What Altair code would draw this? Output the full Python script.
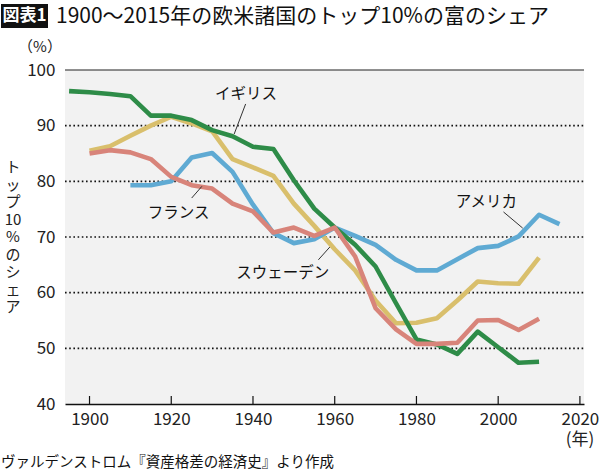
import altair as alt
import pandas as pd

FONT = "Noto Sans CJK JP"

# ---- data ----
uk_years = [1895, 1900, 1905, 1910, 1915, 1920, 1925, 1930, 1935, 1940, 1945, 1950,
            1955, 1960, 1965, 1970, 1975, 1980, 1985, 1990, 1995, 2000, 2005, 2010]
uk_vals = [96.2, 96.0, 95.7, 95.3, 91.8, 91.8, 91.0, 89.2, 88.1, 86.2, 85.8, 80.2,
           75.1, 71.7, 68.6, 64.7, 58.1, 51.6, 50.7, 49.0, 53.0, 50.2, 47.4, 47.6]

se_years = [1900, 1905, 1910, 1915, 1920, 1925, 1930, 1935, 1940, 1945, 1950, 1955,
            1960, 1965, 1970, 1975, 1980, 1985, 1990, 1995, 2000, 2005, 2010]
se_vals = [85.5, 86.3, 88.2, 90.0, 91.6, 90.4, 89.0, 84.0, 82.5, 81.0, 76.0, 72.0,
           67.8, 64.0, 58.6, 54.5, 54.6, 55.4, 58.6, 62.0, 61.7, 61.6, 66.3]

fr_years = se_years
fr_vals = [85.0, 85.6, 85.2, 84.0, 80.8, 79.3, 78.7, 76.0, 74.6, 70.8, 71.7, 70.2,
           71.7, 66.5, 57.2, 53.4, 50.8, 50.8, 51.0, 55.0, 55.1, 53.3, 55.3]

us_years = [1910, 1915, 1920, 1925, 1930, 1935, 1940, 1945, 1950, 1955, 1960, 1965,
            1970, 1975, 1980, 1985, 1990, 1995, 2000, 2005, 2010, 2015]
us_vals = [79.3, 79.3, 80.0, 84.3, 85.1, 81.7, 75.8, 70.7, 68.9, 69.6, 71.7, 70.2,
           68.6, 65.9, 64.0, 64.0, 66.0, 68.0, 68.4, 70.1, 74.0, 72.3]

tick_years = [1900, 1920, 1940, 1960, 1980, 2000, 2020]
y_ticks = [40, 50, 60, 70, 80, 90, 100]
dotted_grid = [50, 60, 70, 80, 90]
solid_grid = [100]

labels = ["イギリス", "フランス", "スウェーデン", "アメリカ"]
label_year = [1938.3, 1921.8, 1947.3, 1997.1]
label_val = [95.6, 74.4, 63.6, 76.2]
leader_x1 = [1938.2, 1925.0, 1956.0, 2001.3]
leader_y1 = [93.9, 77.0, 65.9, 74.5]
leader_x2 = [1935.4, 1927.5, 1958.8, 2006.0]
leader_y2 = [88.5, 79.1, 68.2, 71.6]

colors = {"uk": "#2e8c48", "se": "#d9bf6c", "fr": "#d8847a", "us": "#5faad3"}

W, H = 519, 334
xscale = alt.Scale(domain=[1894, 2021], nice=False, zero=False)
yscale = alt.Scale(domain=[40, 100], nice=False, zero=False)

XAX = alt.Axis(values=tick_years, format="d", title=None, ticks=False, grid=False,
               domain=True, domainColor="#111", domainWidth=1.5, labelFontSize=17,
               labelFont=FONT, labelColor="#222", labelPadding=7)
YAX = alt.Axis(values=y_ticks, title=None, ticks=False, grid=False, domain=False,
               labelFontSize=17, labelFont=FONT, labelColor="#222", labelPadding=10)


def X(field):
    return alt.X(field, type="quantitative", scale=xscale, axis=XAX)


def Y(field):
    return alt.Y(field, type="quantitative", scale=yscale, axis=YAX)


def series(years, vals, color):
    df = pd.DataFrame({"year": years, "value": vals})
    return alt.Chart(df).mark_line(color=color, strokeWidth=4.6, strokeJoin="round").encode(
        x=X("year"), y=Y("value"))


grid_dot = alt.Chart(pd.DataFrame({"value": dotted_grid})).mark_rule(
    color="#111", strokeWidth=1.6, strokeDash=[1.6, 2.6]).encode(
    y=Y("value"), x=alt.value(0), x2=alt.value(W))

grid_solid = alt.Chart(pd.DataFrame({"value": solid_grid})).mark_rule(
    color="#222", strokeWidth=1.2).encode(
    y=Y("value"), x=alt.value(0), x2=alt.value(W))

ticks = alt.Chart(pd.DataFrame({"year": tick_years})).mark_rule(color="#111", strokeWidth=1.2).encode(
    x=X("year"), y=alt.value(H), y2=alt.value(H - 8))

ann = pd.DataFrame({"label": labels, "year": label_year, "value": label_val,
                    "x1": leader_x1, "y1": leader_y1, "x2": leader_x2, "y2": leader_y2})
ann_text = alt.Chart(ann).mark_text(font=FONT, fontSize=15.5, color="#111").encode(
    x=X("year"), y=Y("value"), text="label:N")
ann_lines = alt.Chart(ann).mark_rule(color="#333", strokeWidth=1).encode(
    x=X("x1"), y=Y("y1"), x2="x2:Q", y2="y2:Q")

one = alt.Data(values=[{"a": 1}])
title_box = alt.Chart(one).mark_rect(color="#111").encode(
    x=alt.value(-64), x2=alt.value(-17), y=alt.value(-66), y2=alt.value(-42))
title_tag = alt.Chart(one).mark_text(font=FONT, fontSize=17, fontWeight="bold", color="white",
                                     align="center", baseline="middle").encode(
    x=alt.value(-40.5), y=alt.value(-54), text=alt.value("図表1"))
title_txt = alt.Chart(one).mark_text(font=FONT, fontSize=21, color="#111",
                                     align="left", baseline="middle").encode(
    x=alt.value(-9), y=alt.value(-53), text=alt.value("1900〜2015年の欧米諸国のトップ10%の富のシェア"))
pct = alt.Chart(one).mark_text(font=FONT, fontSize=15, color="#222",
                               align="center", baseline="middle").encode(
    x=alt.value(-25), y=alt.value(-23), text=alt.value("（%）"))
ytitle = alt.Chart(one).mark_text(font=FONT, fontSize=15, color="#222", align="center",
                                  baseline="middle", lineBreak="\n", lineHeight=17.5).encode(
    x=alt.value(-52), y=alt.value(97), text=alt.value("ト\nッ\nプ\n10\n%\nの\nシ\nェ\nア"))
nen = alt.Chart(pd.DataFrame({"year": [2020]})).mark_text(font=FONT, fontSize=17, color="#222",
                                                         baseline="middle").encode(
    x=X("year"), y=alt.value(H + 36), text=alt.value("(年)"))
source = alt.Chart(one).mark_text(font=FONT, fontSize=14.5, color="#111", align="left",
                                  baseline="middle").encode(
    x=alt.value(-64), y=alt.value(H + 59), text=alt.value("ヴァルデンストロム『資産格差の経済史』より作成"))

chart = alt.layer(
    grid_dot, grid_solid, ticks,
    series(se_years, se_vals, colors["se"]),
    series(us_years, us_vals, colors["us"]),
    series(uk_years, uk_vals, colors["uk"]),
    series(fr_years, fr_vals, colors["fr"]),
    ann_lines, ann_text,
    title_box, title_tag, title_txt, pct, ytitle, nen, source,
).properties(
    width=W, height=H,
    autosize=alt.AutoSizeParams(type="none"),
    padding={"left": 65, "top": 70, "right": 16, "bottom": 68},
    background="white",
).configure_view(fill="#f2f2f2", stroke=None)

chart.save("out.html", embed_options={"renderer": "svg", "actions": False})
